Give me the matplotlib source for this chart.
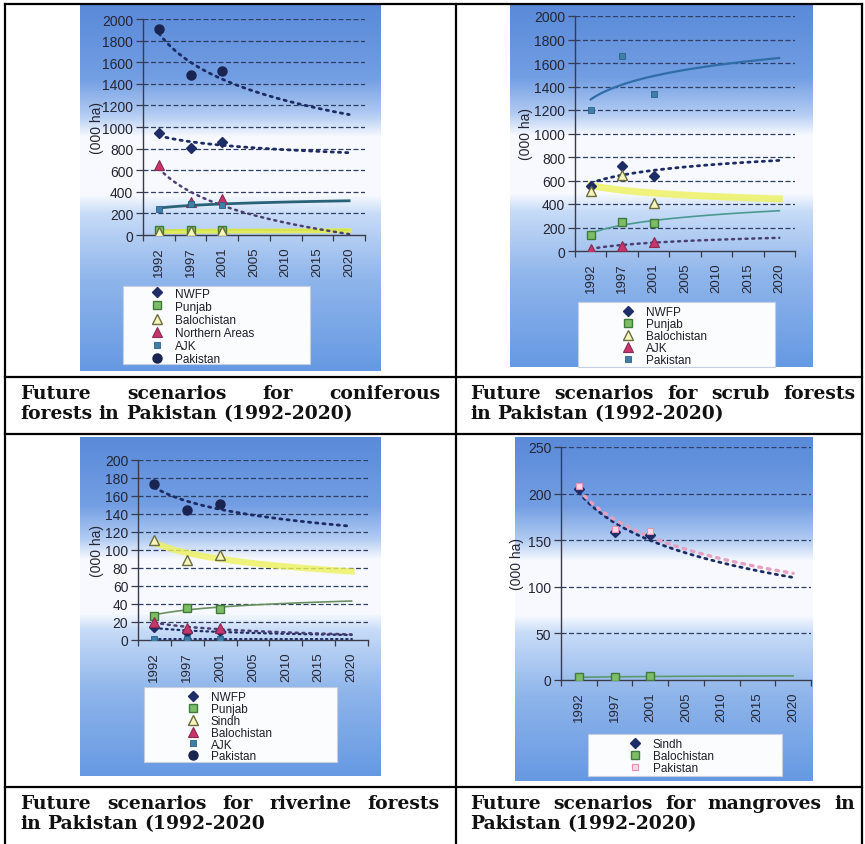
import numpy as np
import matplotlib
matplotlib.use('Agg')
import matplotlib.pyplot as plt
from matplotlib.lines import Line2D
from matplotlib.patches import Rectangle

plt.rcParams['font.family'] = ['Liberation Sans', 'DejaVu Sans']

# category axis shared by all four charts
years = ['1992', '1997', '2001', '2005', '2010', '2015', '2020']
observed = [0, 1, 2]

# coniferous forests (000 ha)
con_nwfp = [940, 810, 865]
con_punjab = [45, 45, 45]
con_baloch = [30, 35, 35]
con_northern = [650, 310, 330]
con_ajk = [245, 285, 280]
con_pakistan = [1910, 1485, 1515]

# scrub forests
scr_nwfp = [550, 720, 640]
scr_punjab = [140, 250, 240]
scr_baloch = [510, 650, 410]
scr_ajk = [20, 45, 75]
scr_pakistan = [1200, 1660, 1335]

# riverine forests
riv_nwfp = [14, 9, 10]
riv_punjab = [27, 36, 35]
riv_sindh = [111, 89, 95]
riv_baloch = [20, 13, 13]
riv_ajk = [1, 1, 1]
riv_pakistan = [173, 145, 151]

# mangroves
man_sindh = [205, 159, 156]
man_baloch = [3, 3, 4]
man_pakistan = [208, 162, 160]

W, H = 865, 845
fig = plt.figure(figsize=(W / 100, H / 100), dpi=100)


def box(x0, y0, x1, y1):
    return [x0 / W, 1 - y1 / H, (x1 - x0) / W, (y1 - y0) / H]


MARKERS = {
    'diamond': dict(marker='D', ms=5, mfc='#1f2d66', mec='#1f2d66'),
    'green': dict(marker='s', ms=5.5, mfc='#7dbd66', mec='#3f7a3a', mew=1),
    'yellow': dict(marker='^', ms=7, mfc='#f6f6b8', mec='#6b6b40', mew=1),
    'red': dict(marker='^', ms=7, mfc='#c8356a', mec='#8a2a50', mew=0.8),
    'bluesq': dict(marker='s', ms=3.8, mfc='#3d7fa6', mec='#2a5f86', mew=0.6),
    'circle': dict(marker='o', ms=6.5, mfc='#1a2450', mec='#1a2450'),
    'pinksq': dict(marker='s', ms=3.8, mfc='#fcd8e6', mec='#e890b0', mew=0.8),
}

NAVY_DOT = dict(color='#1d2b63', ls=(0, (0.8, 1.8)), lw=2.0, dash_capstyle='round')
PURPLE_DOT = dict(color='#4b3f72', ls=(0, (0.8, 1.9)), lw=1.8, dash_capstyle='round')
PINK_DOT = dict(color='#e6a0c0', ls=(0, (0.8, 1.8)), lw=2.4, dash_capstyle='round')
YELLOW = dict(color='#e8ef45', lw=3.5, alpha=0.85)
GREEN_LINE = dict(color='#5b9a6e', lw=1.2)
TEAL_LINE = dict(color='#2a6278', lw=2.0)
BLUE_LINE = dict(color='#2f6ea8', lw=1.6)

TICK_COLOR = '#262633'


def panel_background(x0, y0, x1, y1):
    bg = fig.add_axes(box(x0, y0, x1, y1))
    bg.set_axis_off()
    stops = [0.0, 0.2, 0.3, 0.36, 0.52, 0.57, 0.75, 1.0]
    cols = [(0.35, 0.54, 0.85), (0.45, 0.62, 0.89), (0.70, 0.80, 0.95),
            (0.97, 0.98, 1.0), (0.97, 0.98, 1.0), (0.78, 0.86, 0.97),
            (0.56, 0.71, 0.92), (0.40, 0.60, 0.89)]
    f = np.linspace(0, 1, 400)
    rgb = np.stack([np.interp(f, stops, [c[i] for c in cols]) for i in range(3)], axis=-1)
    bg.imshow(rgb[:, None, :], aspect='auto', interpolation='bilinear')


def log_trend(ax, values, style):
    # Excel-style logarithmic trendline over category index 1..7
    k = np.array(observed) + 1
    a, b = np.polyfit(np.log(k), values, 1)
    xs = np.linspace(1, len(years), 120)
    ax.plot(xs - 1, a * np.log(xs) + b, zorder=3, **style)


def draw_chart(ax_px, ymax, ystep, series, label_x, legend_px):
    x0, y0, x1, y1 = ax_px
    ax = fig.add_axes(box(*ax_px))
    ax.patch.set_alpha(0)
    ax.set_xlim(-0.5, len(years) - 0.5)
    ax.set_ylim(0, ymax)
    yt = np.arange(0, ymax + 1, ystep)
    for y in yt[1:]:
        ax.axhline(y, color='#2f3f62', ls=(0, (4, 2)), lw=0.9, zorder=1)

    for name, vals, mk, trend in series:
        if trend is not None:
            log_trend(ax, vals, trend)
    handles = []
    for name, vals, mk, trend in series:
        ax.plot(observed, vals, ls='none', zorder=4, **MARKERS[mk])
        handles.append(Line2D([], [], ls='none', label=name, **MARKERS[mk]))

    for s in ['top', 'right']:
        ax.spines[s].set_visible(False)
    for s in ['left', 'bottom']:
        ax.spines[s].set_color('#3a3a4a')
        ax.spines[s].set_linewidth(1.0)
    ax.set_yticks(yt)
    ax.set_yticklabels([str(int(v)) for v in yt])
    ax.set_xticks(range(len(years)))
    ax.set_xticklabels(years, rotation=90)
    ax.set_xticks(np.arange(-0.5, len(years), 1), minor=True)
    ax.tick_params(axis='x', which='major', length=0, pad=8, labelsize=9.5, labelcolor=TICK_COLOR)
    ax.tick_params(axis='x', which='minor', length=4, width=0.9, color='#3a3a4a', direction='out')
    ax.tick_params(axis='y', length=5, width=0.9, color='#3a3a4a', pad=2, labelsize=10,
                   labelcolor=TICK_COLOR)
    ax.set_ylabel('(000 ha)', fontsize=10, color=TICK_COLOR)
    # label_x is the centre of the rotated label; the anchor sits on its right edge
    ax.yaxis.set_label_coords((label_x + 6 - x0) / (x1 - x0), 0.5)

    # legend box with marker-only entries
    bx0, by0, bx1, by1, mx, row0, step = legend_px
    fig.add_artist(Rectangle((bx0 / W, 1 - by1 / H), (bx1 - bx0) / W, (by1 - by0) / H,
                             transform=fig.transFigure, facecolor='#fbfcfe',
                             edgecolor='#c5cfe0', lw=0.8, zorder=1))
    fs = 8.5
    fs_px = fs * 100 / 72
    fig.legend(handles=handles, loc='upper left',
               bbox_to_anchor=((mx - fs_px / 2) / W, 1 - (row0 - step / 2) / H),
               bbox_transform=fig.transFigure, frameon=False, borderpad=0,
               borderaxespad=0, handlelength=1.0, handletextpad=1.0,
               labelspacing=(step - 1.01 * fs_px) / fs_px, fontsize=fs,
               labelcolor='#1e1e2a')
    return ax


# panels
panel_background(80, 6, 381, 372)
panel_background(510, 6, 813, 368)
panel_background(80, 438, 381, 777)
panel_background(515, 438, 813, 782)

draw_chart((143, 20, 365, 236), 2000, 200, [
    ('NWFP', con_nwfp, 'diamond', NAVY_DOT),
    ('Punjab', con_punjab, 'green', GREEN_LINE),
    ('Balochistan', con_baloch, 'yellow', YELLOW),
    ('Northern Areas', con_northern, 'red', PURPLE_DOT),
    ('AJK', con_ajk, 'bluesq', TEAL_LINE),
    ('Pakistan', con_pakistan, 'circle', NAVY_DOT),
], 98, (123, 287, 310, 365, 157, 295, 13))

draw_chart((575, 17, 795, 252), 2000, 200, [
    ('NWFP', scr_nwfp, 'diamond', NAVY_DOT),
    ('Punjab', scr_punjab, 'green', dict(color='#4a9a90', lw=1.2)),
    ('Balochistan', scr_baloch, 'yellow', dict(color='#eef25a', lw=5, alpha=0.8)),
    ('AJK', scr_ajk, 'red', PURPLE_DOT),
    ('Pakistan', scr_pakistan, 'bluesq', BLUE_LINE),
], 527, (578, 303, 775, 368, 628, 313, 12))

draw_chart((138, 461, 368, 641), 200, 20, [
    ('NWFP', riv_nwfp, 'diamond', dict(NAVY_DOT, lw=1.6)),
    ('Punjab', riv_punjab, 'green', dict(color='#6a9060', lw=1.2)),
    ('Sindh', riv_sindh, 'yellow', dict(color='#eef25a', lw=4.5, alpha=0.8)),
    ('Balochistan', riv_baloch, 'red', PURPLE_DOT),
    ('AJK', riv_ajk, 'bluesq', dict(NAVY_DOT, lw=1.4)),
    ('Pakistan', riv_pakistan, 'circle', NAVY_DOT),
], 98, (144, 688, 337, 763, 193, 698, 11.8))

draw_chart((561, 448, 811, 681), 250, 50, [
    ('Sindh', man_sindh, 'diamond', NAVY_DOT),
    ('Balochistan', man_baloch, 'green', GREEN_LINE),
    ('Pakistan', man_pakistan, 'pinksq', PINK_DOT),
], 518, (588, 735, 782, 777, 635, 745, 11.7))

# table rules
def hline(y, x0=5, x1=862):
    fig.add_artist(Line2D([x0 / W, x1 / W], [1 - y / H] * 2, transform=fig.transFigure,
                          color='black', lw=1.6, zorder=6))


def vline(x, y0=5, y1=845):
    fig.add_artist(Line2D([x / W] * 2, [1 - y0 / H, 1 - y1 / H], transform=fig.transFigure,
                          color='black', lw=1.6, zorder=6))


for y in [5, 378, 435, 788]:
    hline(y)
for x in [5, 456, 862]:
    vline(x)

# captions
renderer = fig.canvas.get_renderer()
cap_font = dict(family='DejaVu Serif', weight='bold', size=13.5, color='#111111')


def caption_line(text, x0, x1, baseline, justify):
    words = text.split(' ')
    objs = [fig.text(0, 1 - baseline / H, w, ha='left', va='baseline', **cap_font) for w in words]
    widths = [t.get_window_extent(renderer).width for t in objs]
    space = fig.text(0, 0, ' ', **cap_font)
    gap = space.get_window_extent(renderer).width
    space.remove()
    if justify and len(words) > 1:
        gap = max((x1 - x0 - sum(widths)) / (len(words) - 1), 3)
    x = x0
    for t, w in zip(objs, widths):
        t.set_x(x / W)
        x += w + gap


caption_line('Future scenarios for coniferous', 20, 440, 399, True)
caption_line('forests in Pakistan (1992-2020)', 20, 440, 419, False)
caption_line('Future scenarios for scrub forests', 470, 855, 399, True)
caption_line('in Pakistan (1992-2020)', 470, 855, 419, False)
caption_line('Future scenarios for riverine forests', 20, 440, 809, True)
caption_line('in Pakistan (1992-2020', 20, 440, 829, False)
caption_line('Future scenarios for mangroves in', 470, 855, 809, True)
caption_line('Pakistan (1992-2020)', 470, 855, 829, False)

fig.savefig('out.png', dpi=100)
